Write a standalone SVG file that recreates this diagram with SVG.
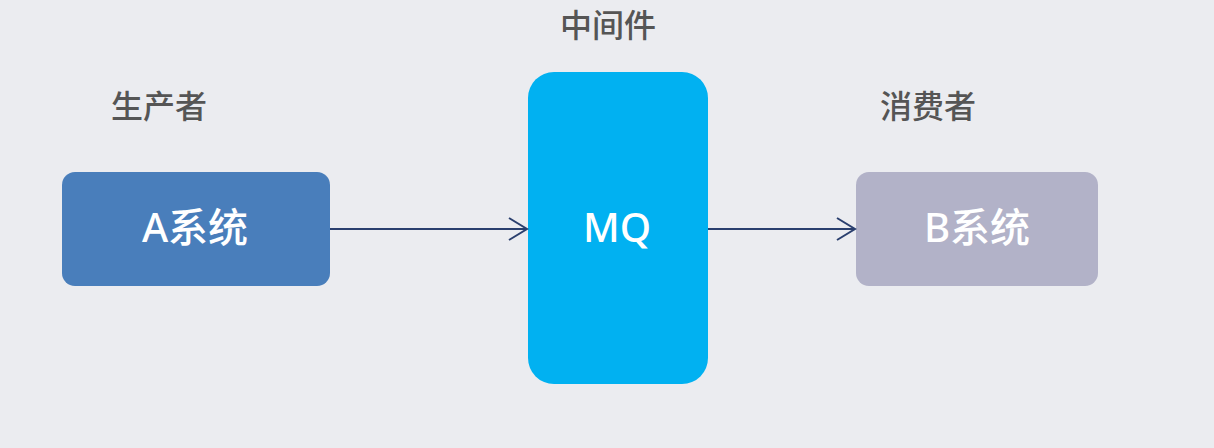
<svg xmlns="http://www.w3.org/2000/svg" width="1214" height="448" viewBox="0 0 1214 448">
<style>
.lbl{font-family:"Noto Sans CJK SC","Noto Sans",sans-serif;font-size:32px;font-weight:500;fill:#555555;text-anchor:middle}
.nt{font-family:"Noto Sans","Noto Sans CJK SC",sans-serif;font-size:40px;font-weight:500;fill:#ffffff;text-anchor:middle}
.edge{stroke:#2a3f6e;stroke-width:2;fill:none}
</style>
<defs>
<marker id="arr" markerWidth="24" markerHeight="26" refX="20" refY="12" orient="auto" markerUnits="userSpaceOnUse">
<path d="M2,1 L20,12 L2,23" fill="none" stroke="#2a3f6e" stroke-width="2"/>
</marker>
</defs>
<rect width="1214" height="448" fill="#EBECF0"/>
<text class="lbl" x="159" y="118">生产者</text>
<text class="lbl" x="608" y="37">中间件</text>
<text class="lbl" x="928" y="118">消费者</text>
<g id="nodeA">
<rect x="62" y="172" width="268" height="114" rx="13" fill="#497EBB"/>
<text class="nt" x="195" y="242">A系统</text>
</g>
<g id="nodeMQ">
<rect x="528" y="72" width="180" height="312" rx="26" fill="#01B1F1"/>
<text class="nt" x="617" y="242">MQ</text>
</g>
<g id="nodeB">
<rect x="856" y="172" width="242" height="114" rx="13" fill="#B2B2C8"/>
<text class="nt" x="977" y="242">B系统</text>
</g>
<g id="connectors">
<line class="edge" x1="330" y1="229" x2="527" y2="229" marker-end="url(#arr)"/>
<line class="edge" x1="708" y1="229" x2="855" y2="229" marker-end="url(#arr)"/>
</g>
</svg>
